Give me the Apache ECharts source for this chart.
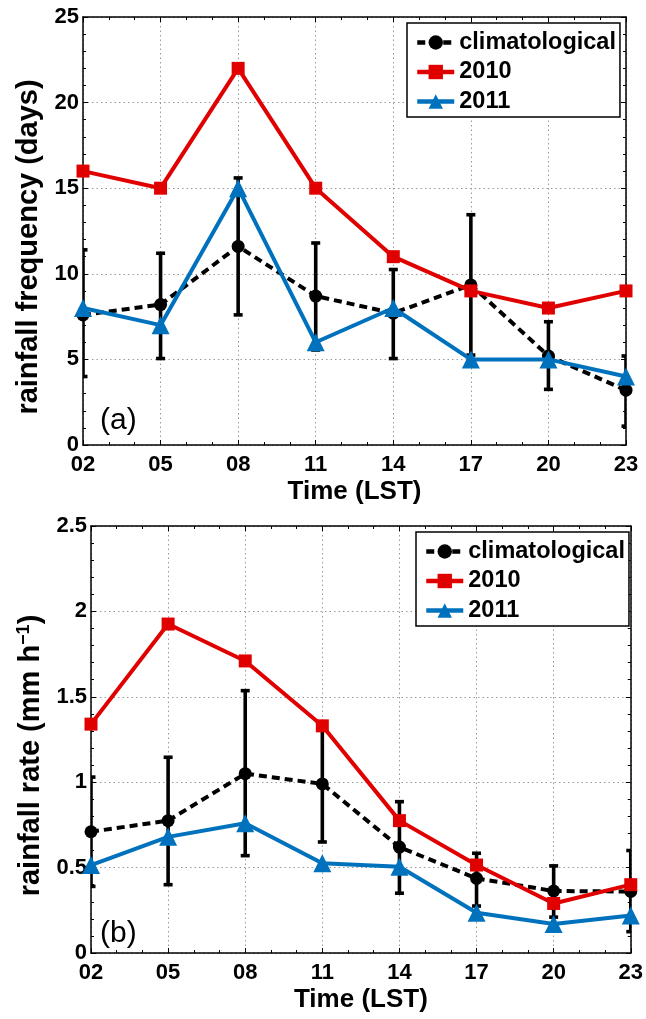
<!DOCTYPE html>
<html>
<head>
<meta charset="utf-8">
<script src="https://cdn.jsdelivr.net/npm/echarts@6/dist/echarts.min.js"></script>
<style>html,body{margin:0;padding:0;background:#fff;}#c{width:646px;height:1019px;}</style>
</head>
<body>
<div id="c"></div>
<script>
const hours = ['02','05','08','11','14','17','20','23'];
const seriesNames = ['climatological','2010','2011'];

const freqClim = [7.6, 8.2, 11.6, 8.7, 7.7, 9.35, 5.2, 3.2];
const freqLo   = [4.0, 5.05, 7.6, 5.55, 5.05, 5.25, 3.25, 1.1];
const freqHi   = [11.4, 11.2, 15.6, 11.8, 10.25, 13.45, 7.2, 5.2];
const freq2010 = [16, 15, 22, 15, 11, 9, 8, 9];
const freq2011 = [8, 7, 15, 6, 8, 5, 5, 4];

const rateClim = [0.71, 0.775, 1.05, 0.99, 0.62, 0.437, 0.363, 0.36];
const rateLo   = [0.39, 0.40, 0.57, 0.65, 0.35, 0.275, 0.21, 0.125];
const rateHi   = [1.03, 1.146, 1.536, 1.33, 0.886, 0.584, 0.51, 0.60];
const rate2010 = [1.34, 1.926, 1.71, 1.33, 0.775, 0.515, 0.29, 0.40];
const rate2011 = [0.515, 0.68, 0.76, 0.525, 0.505, 0.236, 0.17, 0.22];

const freqTicks = [0, 5, 10, 15, 20, 25];
const rateTicks = [0, 0.5, 1, 1.5, 2, 2.5];

const FONT = 'Liberation Sans, Arial, Helvetica, sans-serif';
const RED = '#e00000', BLUE = '#0072bd', BLACK = '#000';
const hx = hours.map(Number);
const pairs = (arr) => arr.map((v, i) => [hx[i], v]);

function xAxisDef(gi, pos, main, name) {
  return {
    type: 'value', gridIndex: gi, position: pos, min: 2, max: 23, interval: 3,
    name: main ? name : '', nameLocation: 'middle', nameGap: 34,
    nameTextStyle: {fontFamily: FONT, fontWeight: 'bold', fontSize: 26, color: BLACK},
    axisLine: {show: true, onZero: false, lineStyle: {color: BLACK, width: 1.5}},
    axisTick: {show: true, inside: true, length: 5, lineStyle: {color: BLACK, width: 1}},
    minorTick: {show: true, splitNumber: 3, length: 3, lineStyle: {color: BLACK, width: 1}},
    axisLabel: {show: main, margin: 9, fontFamily: FONT, fontWeight: 'bold', fontSize: 22, color: BLACK,
      showMinLabel: true, showMaxLabel: true,
      formatter: (v) => { const h = hours.find(s => Number(s) === v); return h || ''; }},
    splitLine: {show: main, lineStyle: {color: '#9a9a9a', type: [1.5, 3], width: 1}},
    minorSplitLine: {show: false}
  };
}
function yAxisDef(gi, pos, main, ticks, name, gap) {
  return {
    type: 'value', gridIndex: gi, position: pos, min: ticks[0], max: ticks[ticks.length - 1],
    interval: ticks[1] - ticks[0],
    name: main ? name : '', nameLocation: 'middle', nameGap: gap,
    nameTextStyle: {fontFamily: FONT, fontWeight: 'bold', fontSize: 29, color: BLACK, padding: [0, 32, 0, 0],
      rich: {sup: {fontFamily: FONT, fontWeight: 'bold', fontSize: 18, color: BLACK, verticalAlign: 'top', padding: [0, 0, 13, 0]}}},
    axisLine: {show: true, onZero: false, lineStyle: {color: BLACK, width: 1.5}},
    axisTick: {show: true, inside: true, length: 5, lineStyle: {color: BLACK, width: 1}},
    minorTick: {show: true, splitNumber: 5, length: 3, lineStyle: {color: BLACK, width: 1}},
    axisLabel: {show: main, margin: 4, fontFamily: FONT, fontWeight: 'bold', fontSize: 22, color: BLACK,
      showMinLabel: true, showMaxLabel: true},
    splitLine: {show: main, lineStyle: {color: '#9a9a9a', type: [1.5, 3], width: 1}},
    minorSplitLine: {show: false}
  };
}

function renderErr(params, api) {
  const x = api.value(0), lo = api.value(1), hi = api.value(2);
  const p1 = api.coord([x, lo]), p2 = api.coord([x, hi]);
  const w = 4.5;
  const st = {stroke: BLACK, lineWidth: 3.6};
  return {type: 'group', children: [
    {type: 'line', shape: {x1: p1[0], y1: p1[1], x2: p2[0], y2: p2[1]}, style: st},
    {type: 'line', shape: {x1: p1[0] - w, y1: p1[1], x2: p1[0] + w, y2: p1[1]}, style: st},
    {type: 'line', shape: {x1: p2[0] - w, y1: p2[1], x2: p2[0] + w, y2: p2[1]}, style: st}
  ]};
}

function seriesFor(gi, clim, lo, hi, s2010, s2011) {
  return [
    {type: 'custom', xAxisIndex: gi * 2, yAxisIndex: gi * 2, renderItem: renderErr, clip: true, z: 3,
      encode: {x: 0, y: [1, 2]}, data: hx.map((x, i) => [x, lo[i], hi[i]]), silent: true},
    {type: 'line', name: seriesNames[0], xAxisIndex: gi * 2, yAxisIndex: gi * 2, data: pairs(clim), z: 2,
      symbol: 'circle', symbolSize: 13, itemStyle: {color: BLACK}, lineStyle: {color: BLACK, width: 4, type: [8, 5]},
      clip: false, animation: false},
    {type: 'line', name: seriesNames[1], xAxisIndex: gi * 2, yAxisIndex: gi * 2, data: pairs(s2010), z: 4,
      symbol: 'rect', symbolSize: 13, itemStyle: {color: RED}, lineStyle: {color: RED, width: 4},
      clip: false, animation: false},
    {type: 'line', name: seriesNames[2], xAxisIndex: gi * 2, yAxisIndex: gi * 2, data: pairs(s2011), z: 5,
      symbol: 'triangle', symbolSize: 18, itemStyle: {color: BLUE}, lineStyle: {color: BLUE, width: 4},
      clip: false, animation: false}
  ];
}

function legendDef(left, top) {
  return {
    orient: 'vertical', left: left, top: top, data: seriesNames,
    itemWidth: 37, itemHeight: 18, itemGap: 4.5,
    padding: [7, 4, 3, 8], borderColor: BLACK, borderWidth: 1.5, backgroundColor: '#fff',
    lineStyle: {width: 4.5},
    textStyle: {fontFamily: FONT, fontWeight: 'bold', fontSize: 23.5, color: BLACK, lineHeight: 25},
    selectedMode: false
  };
}

const chart = echarts.init(document.getElementById('c'), null, {renderer: 'canvas'});
chart.setOption({
  animation: false,
  backgroundColor: '#fff',
  grid: [
    {left: 83, top: 17, width: 543, height: 428},
    {left: 91, top: 526, width: 543, height: 427}
  ],
  xAxis: [
    xAxisDef(0, 'bottom', true, 'Time (LST)'), xAxisDef(0, 'top', false),
    xAxisDef(1, 'bottom', true, 'Time (LST)'), xAxisDef(1, 'top', false)
  ],
  yAxis: [
    yAxisDef(0, 'left', true, freqTicks, 'rainfall frequency (days)', 40), yAxisDef(0, 'right', false, freqTicks),
    yAxisDef(1, 'left', true, rateTicks, 'rainfall rate (mm h{sup|−1})', 44), yAxisDef(1, 'right', false, rateTicks)
  ],
  legend: [legendDef(407, 23), legendDef(416, 532)],
  graphic: [
    {type: 'text', left: 100, top: 406, style: {text: '(a)', font: '30px ' + FONT, fill: BLACK}},
    {type: 'text', left: 100, top: 919, style: {text: '(b)', font: '30px ' + FONT, fill: BLACK}}
  ],
  series: [].concat(
    seriesFor(0, freqClim, freqLo, freqHi, freq2010, freq2011),
    seriesFor(1, rateClim, rateLo, rateHi, rate2010, rate2011)
  )
});
</script>
</body>
</html>
